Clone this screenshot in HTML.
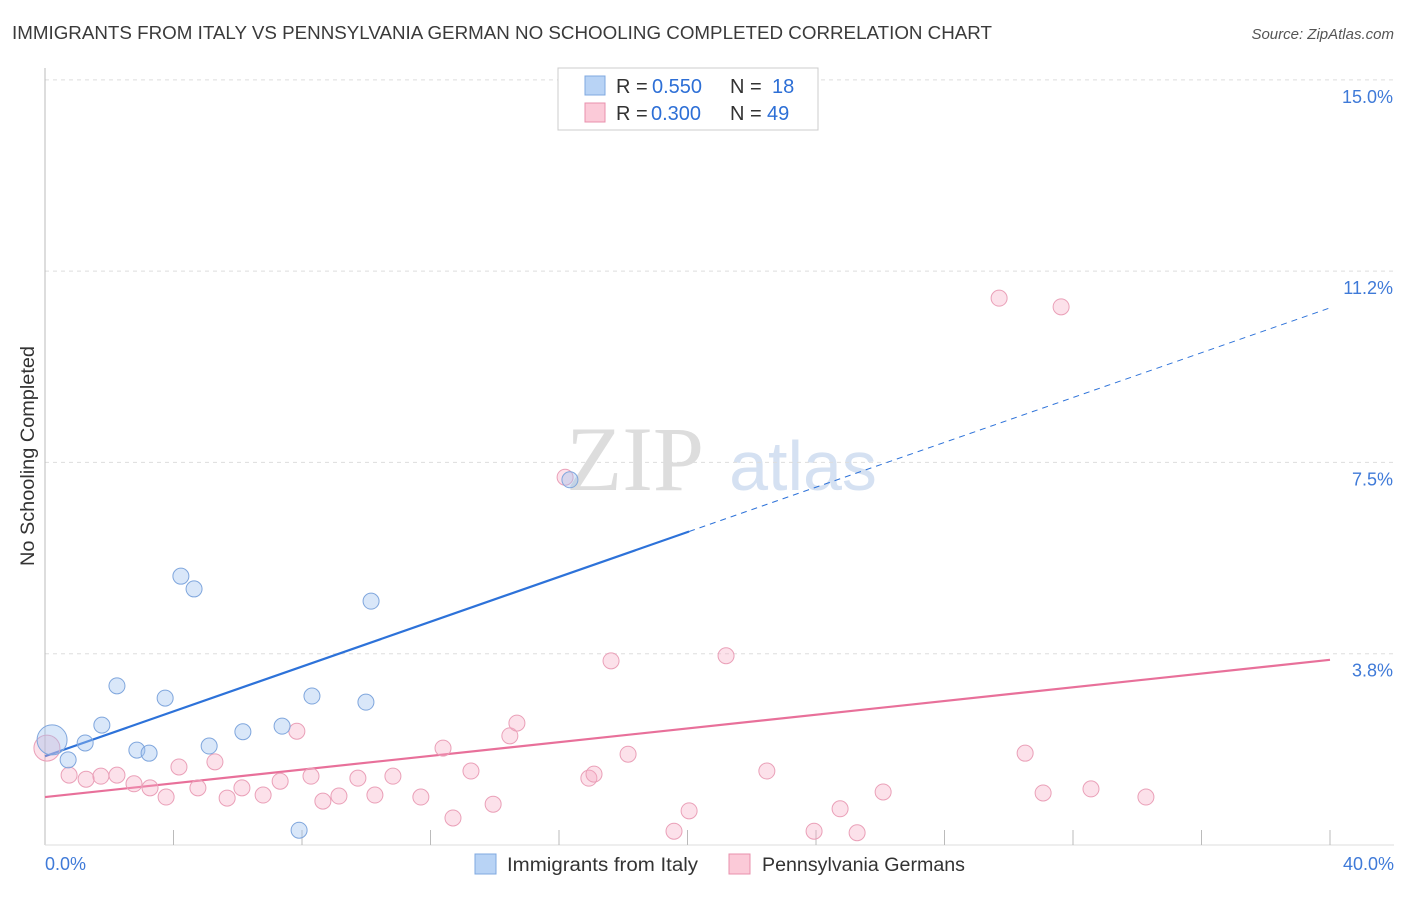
<!DOCTYPE html>
<html><head><meta charset="utf-8"><style>
body{margin:0;background:#fff;font-family:"Liberation Sans",sans-serif;}
</style></head><body>
<svg id="chart" width="1406" height="892" xmlns="http://www.w3.org/2000/svg" font-family="Liberation Sans, sans-serif">
<text x="12" y="39" font-size="18" fill="#3a3a3a" textLength="980" lengthAdjust="spacingAndGlyphs">IMMIGRANTS FROM ITALY VS PENNSYLVANIA GERMAN NO SCHOOLING COMPLETED CORRELATION CHART</text>
<text x="1394" y="39" font-size="15" fill="#555" text-anchor="end" font-style="italic">Source: ZipAtlas.com</text>
<text transform="translate(34,456) rotate(-90)" font-size="19" fill="#333" text-anchor="middle" textLength="220" lengthAdjust="spacingAndGlyphs">No Schooling Completed</text>
<g>
<text x="635" y="490" font-size="92" fill="#ddd" font-family="Liberation Serif, serif" text-anchor="middle">ZIP</text>
<text x="803" y="490" font-size="70" fill="#d5e1f2" text-anchor="middle">atlas</text>
</g>
<g id="grid"></g><g id="axes"></g><g id="trends"></g><g id="points"></g>
<g>
<rect x="558" y="68" width="260" height="62" fill="#fff" stroke="#ccc"/>
<rect x="585" y="76" width="20" height="19" fill="#b8d3f5" stroke="#7fa8e0"/>
<rect x="585" y="103" width="20" height="19" fill="#fbcad8" stroke="#e890ad"/>
<text x="616" y="93" font-size="20" fill="#333">R =</text>
<text x="652" y="93" font-size="20" fill="#2d6fd6">0.550</text>
<text x="730" y="93" font-size="20" fill="#333">N =</text>
<text x="772" y="93" font-size="20" fill="#2d6fd6">18</text>
<text x="616" y="120" font-size="20" fill="#333">R =</text>
<text x="651" y="120" font-size="20" fill="#2d6fd6">0.300</text>
<text x="730" y="120" font-size="20" fill="#333">N =</text>
<text x="767" y="120" font-size="20" fill="#2d6fd6">49</text>
</g>
<g>
<rect x="475" y="854" width="21" height="20" fill="#b8d3f5" stroke="#7fa8e0"/>
<text x="507" y="871" font-size="19" fill="#333" textLength="191" lengthAdjust="spacingAndGlyphs">Immigrants from Italy</text>
<rect x="729" y="854" width="21" height="20" fill="#fbcad8" stroke="#e890ad"/>
<text x="762" y="871" font-size="19" fill="#333" textLength="203" lengthAdjust="spacingAndGlyphs">Pennsylvania Germans</text>
</g>
</svg>
<script>
const yTicks=[3.75,7.5,11.25,15];
const yTickLabels=["3.8%","7.5%","11.2%","15.0%"];
const xTickLabels=["0.0%","40.0%"];
const italyX=[0.22,0.72,1.25,1.77,2.24,2.86,3.24,3.74,4.23,4.64,5.11,6.16,7.38,7.91,8.31,9.99,10.15,16.34];
const italyY=[2.06,1.67,2.0,2.35,3.12,1.86,1.80,2.88,5.27,5.02,1.94,2.22,2.33,0.29,2.92,2.80,4.78,7.16];
const paX=[0.06,0.75,1.28,1.74,2.24,2.77,3.27,3.77,4.17,4.76,5.29,5.67,6.13,6.79,7.32,7.84,8.28,8.65,9.15,9.74,10.27,10.83,11.70,12.39,12.70,13.26,13.95,14.47,14.69,16.19,16.93,17.09,17.62,18.15,19.58,20.05,21.20,22.47,23.94,24.75,25.28,26.09,29.70,30.51,31.07,31.63,32.56,34.27];
const paY=[1.90,1.37,1.29,1.35,1.37,1.20,1.12,0.94,1.53,1.12,1.63,0.92,1.12,0.98,1.25,2.23,1.35,0.86,0.96,1.31,0.98,1.35,0.94,1.90,0.53,1.45,0.80,2.14,2.39,7.21,1.31,1.39,3.61,1.78,0.27,0.67,3.71,1.45,0.27,0.71,0.24,1.04,10.72,1.80,1.02,10.55,1.10,0.94];
const italyTrend=[1.74,10.53];
const paTrend=[0.94,3.63];
const NS="http://www.w3.org/2000/svg";
const sx=v=>45+v*32.125, sy=v=>845-v*51.01;
function mk(p,tag,attrs){const e=document.createElementNS(NS,tag);for(const k in attrs)e.setAttribute(k,attrs[k]);document.getElementById(p).appendChild(e);return e;}
yTicks.forEach((t,i)=>{
 const l=mk('grid','line',{x1:45,x2:1394,y1:sy(t),y2:sy(t),stroke:'#ddd','stroke-dasharray':'4,4'});
 
 
 const tx=mk('grid','text',{x:1393,y:sy(t)+23,'font-size':18,fill:'#3f7ad8','text-anchor':'end'});tx.textContent=yTickLabels[i];
 
 
});
mk('axes','line',{x1:45,x2:45,y1:68,y2:845,stroke:'#bbb'});
mk('axes','line',{x1:45,x2:1394,y1:845,y2:845,stroke:'#ddd'});
for(let i=1;i<=10;i++){const x=sx(i*4);mk('axes','line',{x1:x,x2:x,y1:830,y2:845,stroke:'#bbb'});}
[[0,'start',45],[40,'end',1394]].forEach((d,i)=>{const t=mk('axes','text',{x:d[2],y:870,'font-size':18,fill:'#3f7ad8','text-anchor':d[1]});t.textContent=xTickLabels[i];
 
 });
const xm=20.05, ym=italyTrend[0]+(italyTrend[1]-italyTrend[0])*xm/40;
let b=mk('trends','line',{x1:sx(0),y1:sy(italyTrend[0]),x2:sx(xm),y2:sy(ym),stroke:'#2d72d9','stroke-width':2.2});


let bd=mk('trends','line',{x1:sx(xm),y1:sy(ym),x2:sx(40),y2:sy(italyTrend[1]),stroke:'#2d72d9','stroke-width':1,'stroke-dasharray':'6,5'});


let p=mk('trends','line',{x1:sx(0),y1:sy(paTrend[0]),x2:sx(40),y2:sy(paTrend[1]),stroke:'#e8709a','stroke-width':2.2});


paX.forEach((x,i)=>{const c=mk('points','circle',{cx:sx(x),cy:sy(paY[i]),r:i==0?13:8,fill:'rgba(245,170,195,0.35)',stroke:'#eaa0b8','stroke-width':1});
 
 });
italyX.forEach((x,i)=>{const c=mk('points','circle',{cx:sx(x),cy:sy(italyY[i]),r:i==0?15:8,fill:'rgba(160,195,240,0.4)',stroke:'#7fa6dd','stroke-width':1});
 
 });
</script>
</body></html>
